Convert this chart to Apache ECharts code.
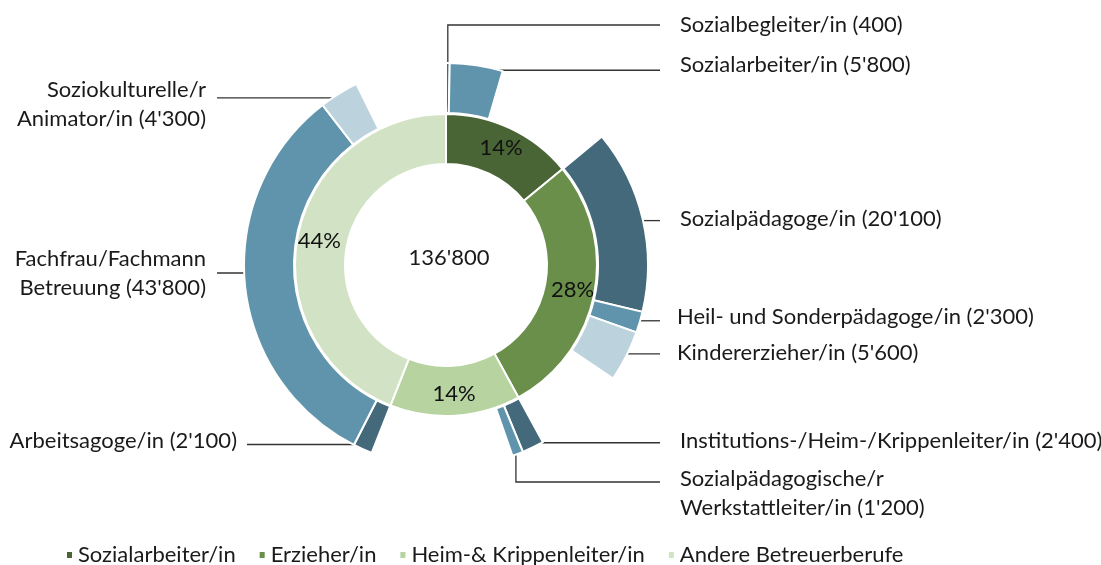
<!DOCTYPE html>
<html>
<head>
<meta charset="utf-8">
<title>Betreuungsberufe</title>
<script src="https://cdn.jsdelivr.net/npm/echarts@6/dist/echarts.min.js"></script>
<style>
  html, body { margin: 0; padding: 0; background: #fff; }
  #chart { width: 1101px; height: 565px; }
</style>
</head>
<body>
<div id="chart"></div>
<script>
// innerer Ring: Berufsgruppen
var groupNames = ['Sozialarbeiter/in', 'Erzieher/in', 'Heim-& Krippenleiter/in', 'Andere Betreuerberufe'];
var groupValues = [19200, 38300, 19100, 60200];

// äusserer Ring: Berufe, je Gruppe
var jobNames = [
    'Sozialbegleiter/in',
    'Sozialarbeiter/in',
    'Sozialpädagoge/in',
    'Heil- und Sonderpädagoge/in',
    'Kindererzieher/in',
    'Institutions-/Heim-/Krippenleiter/in',
    'Sozialpädagogische/r\nWerkstattleiter/in',
    'Arbeitsagoge/in',
    'Fachfrau/Fachmann\nBetreuung',
    'Soziokulturelle/r\nAnimator/in'
];
var jobValues = [400, 5800, 20100, 2300, 5600, 2400, 1200, 2100, 43800, 4300];
var jobGroup = [0, 0, 1, 1, 1, 2, 2, 3, 3, 3];

var innerColors = ['#4a6535', '#6a8f4b', '#b6d3a0', '#d2e2c4'];
var outerColors = ['#44697b', '#5f94ac', '#bcd3de'];

var CX = 446, CY = 265;
var FONT = 'Lato';
var FS = 22;

// Beschriftungen der Berufe (Lage der Texte und Führungslinien)
var labelSpots = [
    { x: 680, y: 25, end: 660, elbowY: 25 },
    { x: 680, y: 65, end: 660 },
    { x: 680, y: 219, end: 660 },
    { x: 677, y: 317, end: 660 },
    { x: 677, y: 353, end: 660 },
    { x: 680, y: 441, end: 660 },
    { x: 680, y: 493, end: 660, elbowY: 482 },
    { x: 237, y: 441, end: 247 },
    { x: 206, y: 273, end: 217, lineY: 273 },
    { x: 206, y: 104, end: 217 }
];

function fmt(v) {
    return String(v).replace(/\B(?=(\d{3})+(?!\d))/g, "'");
}

var total = groupValues.reduce(function (a, b) { return a + b; }, 0);

var innerData = groupNames.map(function (n, i) {
    return { name: n, value: groupValues[i], itemStyle: { color: innerColors[i] } };
});

// äusserer Ring: Berufe je Gruppe, Rest der Gruppe als leeres Stück
var outerData = [];
var outerSpot = [];
groupNames.forEach(function (g, gi) {
    var used = 0, k = 0;
    jobNames.forEach(function (n, j) {
        if (jobGroup[j] !== gi) return;
        outerData.push({
            name: n,
            value: jobValues[j],
            itemStyle: { color: outerColors[k % outerColors.length] }
        });
        outerSpot.push(labelSpots[j]);
        used += jobValues[j];
        k++;
    });
    outerData.push({
        name: 'rest' + gi,
        value: groupValues[gi] - used,
        itemStyle: { color: 'rgba(0,0,0,0)', borderWidth: 0 },
        label: { show: false },
        labelLine: { show: false }
    });
    outerSpot.push(null);
});

var chart = echarts.init(document.getElementById('chart'), null, { renderer: 'canvas' });

chart.setOption({
    animation: false,
    textStyle: { fontFamily: FONT },
    legend: {
        data: groupNames,
        left: 60,
        top: 539,
        icon: 'rect',
        itemWidth: 7,
        itemHeight: 8,
        itemGap: 22,
        selectedMode: false,
        textStyle: { fontFamily: FONT, fontSize: FS, color: '#1a1a1a' }
    },
    graphic: [{
        type: 'text',
        x: CX + 3,
        y: CY - 7,
        style: {
            text: fmt(total),
            align: 'center',
            verticalAlign: 'middle',
            font: FS + 'px ' + FONT,
            fill: '#1a1a1a'
        }
    }],
    series: [
        {
            name: 'Gruppen',
            type: 'pie',
            center: [CX, CY],
            radius: [101, 151],
            startAngle: 90,
            emphasis: { disabled: true },
            itemStyle: { borderColor: '#fff', borderWidth: 2 },
            label: {
                show: true,
                position: 'inside',
                fontFamily: FONT,
                fontSize: FS,
                color: '#111',
                formatter: function (p) { return Math.round(p.percent) + '%'; }
            },
            labelLine: { show: false },
            data: innerData
        },
        {
            name: 'Berufe',
            type: 'pie',
            center: [CX, CY],
            radius: [152, 202],
            startAngle: 90,
            avoidLabelOverlap: false,
            emphasis: { disabled: true },
            itemStyle: { borderColor: '#fff', borderWidth: 2 },
            label: {
                show: true,
                position: 'outside',
                fontFamily: FONT,
                fontSize: FS,
                lineHeight: 29,
                color: '#1a1a1a',
                formatter: function (p) { return p.name + ' (' + fmt(p.value) + ')'; }
            },
            labelLine: {
                show: true,
                length: 0,
                length2: 0,
                lineStyle: { color: '#333', width: 1.3 }
            },
            labelLayout: function (params) {
                var s = outerSpot[params.dataIndex];
                if (!s) return {};
                var p0 = params.labelLinePoints[0];
                // Ansatzpunkt leicht innerhalb des Stücks
                var k = 197 / Math.sqrt((p0[0] - CX) * (p0[0] - CX) + (p0[1] - CY) * (p0[1] - CY));
                var sx = CX + (p0[0] - CX) * k, sy = CY + (p0[1] - CY) * k;
                var pts;
                if (s.elbowY != null) {
                    pts = [[sx, sy], [sx, s.elbowY], [s.end, s.elbowY]];
                } else if (s.lineY != null) {
                    var dy = s.lineY - CY;
                    var dx = Math.sqrt(Math.max(0, 197 * 197 - dy * dy)) * (s.end > CX ? 1 : -1);
                    pts = [[CX + dx, s.lineY], [s.end, s.lineY]];
                } else {
                    pts = [[sx, sy], [s.end, sy]];
                }
                return {
                    x: s.x,
                    y: s.y,
                    align: s.end > CX ? 'left' : 'right',
                    verticalAlign: 'middle',
                    labelLinePoints: pts
                };
            },
            data: outerData
        }
    ]
});
</script>
</body>
</html>
